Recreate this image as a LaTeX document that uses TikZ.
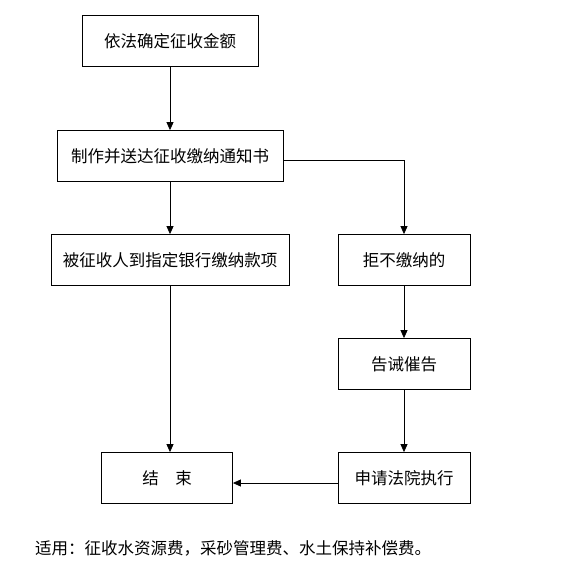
\documentclass[tikz,border=0pt]{standalone}
\usepackage{fontspec}
\newfontfamily\cjk{Noto Sans CJK SC}
\usetikzlibrary{positioning,arrows.meta}

\begin{document}
\begin{tikzpicture}[
    x=1pt, y=-1pt,
    font=\cjk\fontsize{16.5}{19}\selectfont,
    stepbox/.style ={draw, line width=0.8pt, align=center,
                     minimum height=51pt, inner sep=2pt},
    arrow/.style   ={-{Triangle[length=8pt,width=7pt]}, line width=0.8pt}
]
\useasboundingbox (0,0) rectangle (583,566);

% --- main column ---
\node[stepbox, minimum width=176pt] (fix)    at (170,41)  {依法确定征收金额};
\node[stepbox, minimum width=226pt] (notice) at (170,156) {制作并送达征收缴纳通知书};
\node[stepbox, minimum width=238pt] (pay)    at (170,260) {被征收人到指定银行缴纳款项};
\node[stepbox, minimum width=131pt] (done)   at (167,478) {结\hspace{1em}束};

% --- right column: refusal path ---
\node[stepbox, minimum width=132pt] (refuse) at (404,260) {拒不缴纳的};
\node[stepbox, minimum width=132pt] (warn)   at (404,364) {告诫催告};
\node[stepbox, minimum width=132pt] (court)  at (404,478) {申请法院执行};

% --- footnote ---
\node[anchor=west, inner sep=0pt] (scope) at (35,548)
    {适用：征收水资源费，采砂管理费、水土保持补偿费。};

% --- arrows ---
\draw[arrow] (fix) -- (notice);
\draw[arrow] (notice) -- (pay);
\draw[arrow] ([yshift=-4pt]notice.east) -| (refuse.north);
\draw[arrow] (pay.south) -- (pay.south |- done.north);
\draw[arrow] (refuse) -- (warn);
\draw[arrow] (warn) -- (court);
\draw[arrow] ([yshift=-5pt]court.west) -- ([yshift=-5pt]done.east);

\end{tikzpicture}
\end{document}
